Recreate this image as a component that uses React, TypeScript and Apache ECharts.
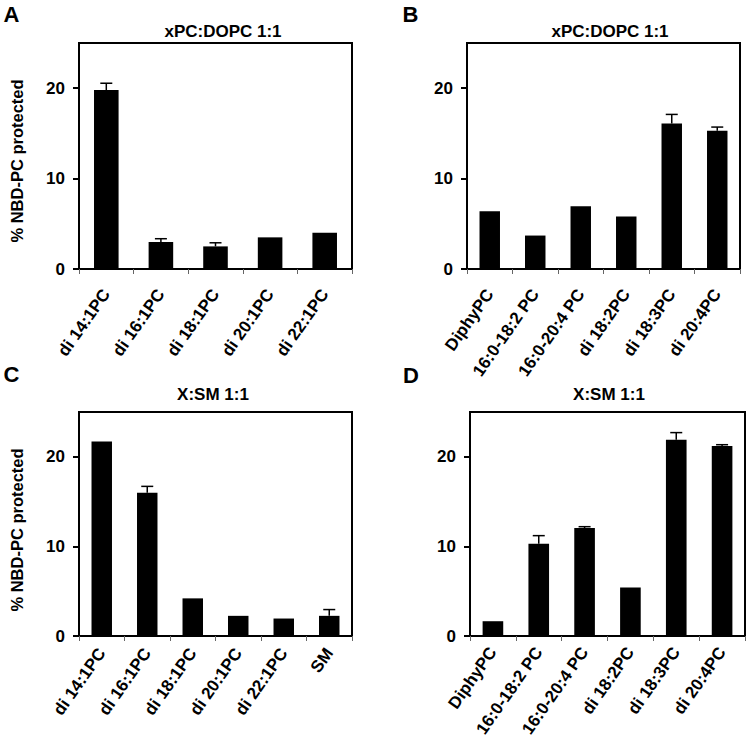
import React, { useEffect, useRef } from "react";
import * as echarts from "echarts";

const catsA = ["di 14:1PC", "di 16:1PC", "di 18:1PC", "di 20:1PC", "di 22:1PC"];
const catsC = ["di 14:1PC", "di 16:1PC", "di 18:1PC", "di 20:1PC", "di 22:1PC", "SM"];
const catsB = ["DiphyPC", "16:0-18:2 PC", "16:0-20:4 PC", "di 18:2PC", "di 18:3PC", "di 20:4PC"];
const catsD = ["DiphyPC", "16:0-18:2 PC", "16:0-20:4 PC", "di 18:2PC", "di 18:3PC", "di 20:4PC"];

const valuesA = [19.8, 3.0, 2.5, 3.5, 4.0];
const errorsA = [0.75, 0.35, 0.4, 0, 0];
const valuesB = [6.4, 3.7, 6.95, 5.8, 16.1, 15.3];
const errorsB = [0, 0, 0, 0, 1.0, 0.4];
const valuesC = [21.7, 16.0, 4.2, 2.25, 1.95, 2.25];
const errorsC = [0, 0.7, 0, 0, 0, 0.7];
const valuesD = [1.65, 10.3, 12.05, 5.4, 21.9, 21.2];
const errorsD = [0, 0.9, 0.15, 0, 0.8, 0.15];

const yTicks = [0, 10, 20];
const yMax = 25;
const titles = ["xPC:DOPC 1:1", "xPC:DOPC 1:1", "X:SM 1:1", "X:SM 1:1"];
const panelLetters = ["A", "B", "C", "D"];
const yAxisName = "% NBD-PC protected";

const FONT = "'Liberation Sans', Arial, Helvetica, sans-serif";

export default function App() {
  const ref = useRef<HTMLDivElement>(null);
  useEffect(() => {
    if (!ref.current) return;
    const chart = echarts.init(ref.current, null, { renderer: "svg" });

    const grids = [
      { left: 79, top: 43, width: 273, height: 226 },
      { left: 467, top: 43, width: 273, height: 226 },
      { left: 79, top: 412, width: 273, height: 224 },
      { left: 470, top: 412, width: 275, height: 224 },
    ];
    const labelMargins = [22, 22, 14, 13];
    const cats = [catsA, catsB, catsC, catsD];
    const vals = [valuesA, valuesB, valuesC, valuesD];
    const errs = [errorsA, errorsB, errorsC, errorsD];

    const titlePos = [
      [223, 31],
      [610, 31],
      [213, 394],
      [609, 394],
    ];
    const letterPos = [
      [11.5, 14.5],
      [410.5, 14.5],
      [11.5, 374],
      [411, 375],
    ];
    const yNamePos = [
      [17, 161],
      [17, 530],
    ];

    const graphic: any[] = [];
    titles.forEach((t, i) => {
      graphic.push({
        type: "text",
        x: titlePos[i][0],
        y: titlePos[i][1],
        style: {
          text: t,
          fill: "#000",
          font: `bold 17px ${FONT}`,
          textAlign: "center",
          textVerticalAlign: "middle",
        },
      });
    });
    panelLetters.forEach((t, i) => {
      graphic.push({
        type: "text",
        x: letterPos[i][0],
        y: letterPos[i][1],
        style: {
          text: t,
          fill: "#000",
          font: `bold 22px ${FONT}`,
          textAlign: "center",
          textVerticalAlign: "middle",
        },
      });
    });
    yNamePos.forEach((p) => {
      graphic.push({
        type: "text",
        x: p[0],
        y: p[1],
        rotation: Math.PI / 2,
        style: {
          text: yAxisName,
          fill: "#000",
          font: `bold 16.5px ${FONT}`,
          textAlign: "center",
          textVerticalAlign: "middle",
        },
      });
    });

    const series: any[] = [];
    vals.forEach((v, i) => {
      series.push({
        type: "bar",
        xAxisIndex: i,
        yAxisIndex: i,
        data: v,
        barWidth: "45%",
        itemStyle: { color: "#000" },
        silent: true,
      });
      series.push({
        type: "custom",
        xAxisIndex: i,
        yAxisIndex: i,
        z: 5,
        silent: true,
        encode: { x: 0, y: 1 },
        data: v.map((val, j) => [j, val, errs[i][j]]),
        renderItem: (params: any, api: any) => {
          const idx = api.value(0);
          const val = api.value(1);
          const e = api.value(2);
          if (!e) return null;
          const p0 = api.coord([idx, val]);
          const p1 = api.coord([idx, val + e]);
          const style = { stroke: "#000", lineWidth: 1.5 };
          return {
            type: "group",
            children: [
              { type: "line", shape: { x1: p0[0], y1: p0[1], x2: p1[0], y2: p1[1] }, style },
              { type: "line", shape: { x1: p1[0] - 6, y1: p1[1], x2: p1[0] + 6, y2: p1[1] }, style },
            ],
          };
        },
      });
    });

    chart.setOption({
      animation: false,
      backgroundColor: "#fff",
      grid: grids.map((g) => ({
        ...g,
        show: true,
        borderColor: "#000",
        borderWidth: 2,
        backgroundColor: "transparent",
        containLabel: false,
        outerBoundsMode: "none",
      })),
      xAxis: cats.map((c, i) => ({
        type: "category",
        gridIndex: i,
        data: c,
        boundaryGap: true,
        axisLine: { show: true, lineStyle: { color: "#000", width: 2 } },
        axisTick: { show: true, alignWithLabel: false, length: 5, lineStyle: { color: "#666", width: 1 } },
        axisLabel: {
          interval: 0,
          rotate: 55,
          margin: labelMargins[i],
          color: "#000",
          fontSize: 17,
          fontWeight: "bold",
          fontFamily: FONT,
        },
        splitLine: { show: false },
      })),
      yAxis: cats.map((c, i) => ({
        type: "value",
        gridIndex: i,
        min: 0,
        max: yMax,
        interval: 10,
        axisLine: { show: true, lineStyle: { color: "#000", width: 2 } },
        axisTick: { show: true, length: 6, customValues: yTicks, lineStyle: { color: "#000", width: 2 } },
        axisLabel: {
          customValues: yTicks,
          margin: 14,
          color: "#000",
          fontSize: 17,
          fontWeight: "bold",
          fontFamily: FONT,
        },
        splitLine: { show: false },
      })),
      graphic,
      series,
    });
    return () => chart.dispose();
  }, []);
  return (
    <div
      ref={ref}
      style={{ position: "absolute", left: 0, top: 0, width: 748, height: 738, background: "#fff" }}
    />
  );
}
